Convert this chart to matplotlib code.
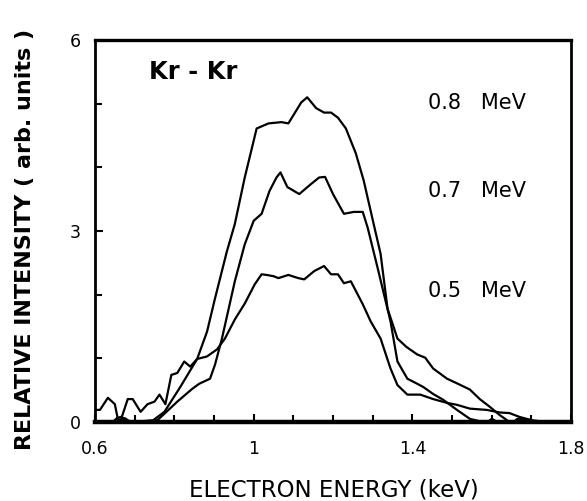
import matplotlib
matplotlib.use("Agg")
import matplotlib.pyplot as plt
from matplotlib.ticker import MultipleLocator, FixedLocator

# ---- data ----
x_08 = [0.60, 0.645, 0.655, 0.665, 0.675, 0.685, 0.745, 0.775, 0.815, 0.8575, 0.8825, 0.9025,
        0.9325, 0.9525, 0.9775, 1.0075, 1.0375, 1.07, 1.0875, 1.12, 1.135, 1.1575,
        1.1775, 1.195, 1.2125, 1.2325, 1.2575, 1.2775, 1.3025, 1.32, 1.3375, 1.3625,
        1.385, 1.4125, 1.4325, 1.4525, 1.4875, 1.515, 1.545, 1.57, 1.595, 1.62,
        1.645, 1.655, 1.665, 1.68, 1.69]
y_08 = [0.0, 0.0, 0.06, 0.08, 0.05, 0.0, 0.02, 0.16, 0.55, 0.99, 1.42, 1.94,
        2.68, 3.11, 3.84, 4.61, 4.69, 4.71, 4.69, 5.02, 5.10, 4.93,
        4.86, 4.86, 4.78, 4.61, 4.22, 3.79, 3.11, 2.64, 1.78, 1.31,
        1.18, 1.06, 1.01, 0.84, 0.68, 0.60, 0.51, 0.36, 0.24, 0.11,
        0.0, 0.0, 0.05, 0.05, 0.0]

x_07 = [0.60, 0.665, 0.675, 0.69, 0.7575, 0.775, 0.8075, 0.845, 0.8625, 0.89, 0.9025, 0.92,
        0.9525, 0.9775, 1.0, 1.02, 1.04, 1.0575, 1.0675, 1.085, 1.115, 1.145,
        1.165, 1.18, 1.2, 1.2275, 1.2525, 1.275, 1.2875, 1.3125, 1.345, 1.3625,
        1.3875, 1.4125, 1.4275, 1.4525, 1.4775, 1.5125, 1.545, 1.5775, 1.59,
        1.60, 1.615]
y_07 = [0.0, 0.0, 0.06, 0.0, 0.03, 0.13, 0.32, 0.52, 0.60, 0.68, 0.90, 1.31,
        2.21, 2.79, 3.16, 3.27, 3.63, 3.84, 3.92, 3.69, 3.58, 3.74,
        3.84, 3.85, 3.58, 3.27, 3.30, 3.30, 3.05, 2.42, 1.58, 0.95,
        0.68, 0.60, 0.55, 0.44, 0.35, 0.19, 0.05, 0.0, 0.0,
        0.05, 0.0]

x_05 = [0.60, 0.6125, 0.6325, 0.65, 0.6575, 0.665, 0.6825, 0.695, 0.715, 0.7325, 0.75,
        0.7625, 0.7775, 0.7925, 0.8075, 0.825, 0.84, 0.8575, 0.8825, 0.9075, 0.9275,
        0.9525, 0.9775, 1.0025, 1.02, 1.0325, 1.05, 1.0625, 1.0875, 1.1125, 1.1275,
        1.1525, 1.1775, 1.195, 1.2125, 1.2275, 1.245, 1.275, 1.295, 1.32, 1.345,
        1.3625, 1.3875, 1.42, 1.4525, 1.4875, 1.5125, 1.545, 1.5875, 1.62, 1.645,
        1.67, 1.70, 1.735]
y_05 = [0.19, 0.19, 0.38, 0.28, 0.05, 0.03, 0.36, 0.36, 0.16, 0.28, 0.32,
        0.43, 0.28, 0.74, 0.77, 0.95, 0.87, 0.99, 1.03, 1.14, 1.31,
        1.61, 1.86, 2.16, 2.32, 2.31, 2.29, 2.26, 2.31, 2.26, 2.24,
        2.37, 2.45, 2.32, 2.32, 2.18, 2.21, 1.85, 1.58, 1.31, 0.84,
        0.58, 0.43, 0.43, 0.36, 0.30, 0.27, 0.21, 0.19, 0.15, 0.14,
        0.08, 0.03, 0.0]

series_labels = ["0.8   MeV", "0.7   MeV", "0.5   MeV"]
x_ticks = [0.6, 1.0, 1.4, 1.8]
x_ticklabels = ["0.6", "1", "1.4", "1.8"]
y_ticks = [0, 3, 6]
y_ticklabels = ["0", "3", "6"]

# ---- figure ----
W, H = 587, 501
fig = plt.figure(figsize=(W / 100, H / 100), dpi=100)
plt.rcParams['font.family'] = ['DejaVu Sans']

L, R, T, B = 95, 571, 40, 422
ax = fig.add_axes([L / W, 1 - B / H, (R - L) / W, (B - T) / H])

for xs, ys in [(x_08, y_08), (x_07, y_07), (x_05, y_05)]:
    ax.plot(xs, ys, color="black", lw=1.6, solid_joinstyle="round")

ax.set_xlim(0.6, 1.8)
ax.set_ylim(0, 6)

ax.xaxis.set_major_locator(FixedLocator(x_ticks))
ax.set_xticklabels(x_ticklabels)
ax.xaxis.set_minor_locator(MultipleLocator(0.1))
ax.yaxis.set_major_locator(FixedLocator(y_ticks))
ax.set_yticklabels(y_ticklabels)
ax.yaxis.set_minor_locator(MultipleLocator(1))

ax.tick_params(axis="both", which="both", direction="in", top=False, right=False,
               width=1.5, color="black")
ax.tick_params(axis="both", which="major", length=6, labelsize=12.5)
ax.tick_params(axis="both", which="minor", length=5)
ax.tick_params(axis="x", which="major", pad=13)
ax.tick_params(axis="y", which="major", pad=10)

ax.spines["bottom"].set_linewidth(3.2)
ax.spines["left"].set_linewidth(2.0)
ax.spines["top"].set_linewidth(2.4)
ax.spines["right"].set_linewidth(2.0)

def ftext(px, py, s, **kw):
    fig.text(px / W, 1 - py / H, s, **kw)

ftext(193, 72, "Kr - Kr", fontsize=17.5, fontweight="bold", ha="center", va="center")
for py, lab in zip([103, 191, 291], series_labels):
    ftext(428, py, lab, fontsize=15, ha="left", va="center")

ftext(334, 490, "ELECTRON ENERGY (keV)", fontsize=16.5, ha="center", va="center")
ftext(25, 239, "RELATIVE INTENSITY ( arb. units )", fontsize=16, fontweight="bold",
      ha="center", va="center", rotation=90)

fig.savefig("out.png", dpi=100, facecolor="white")
